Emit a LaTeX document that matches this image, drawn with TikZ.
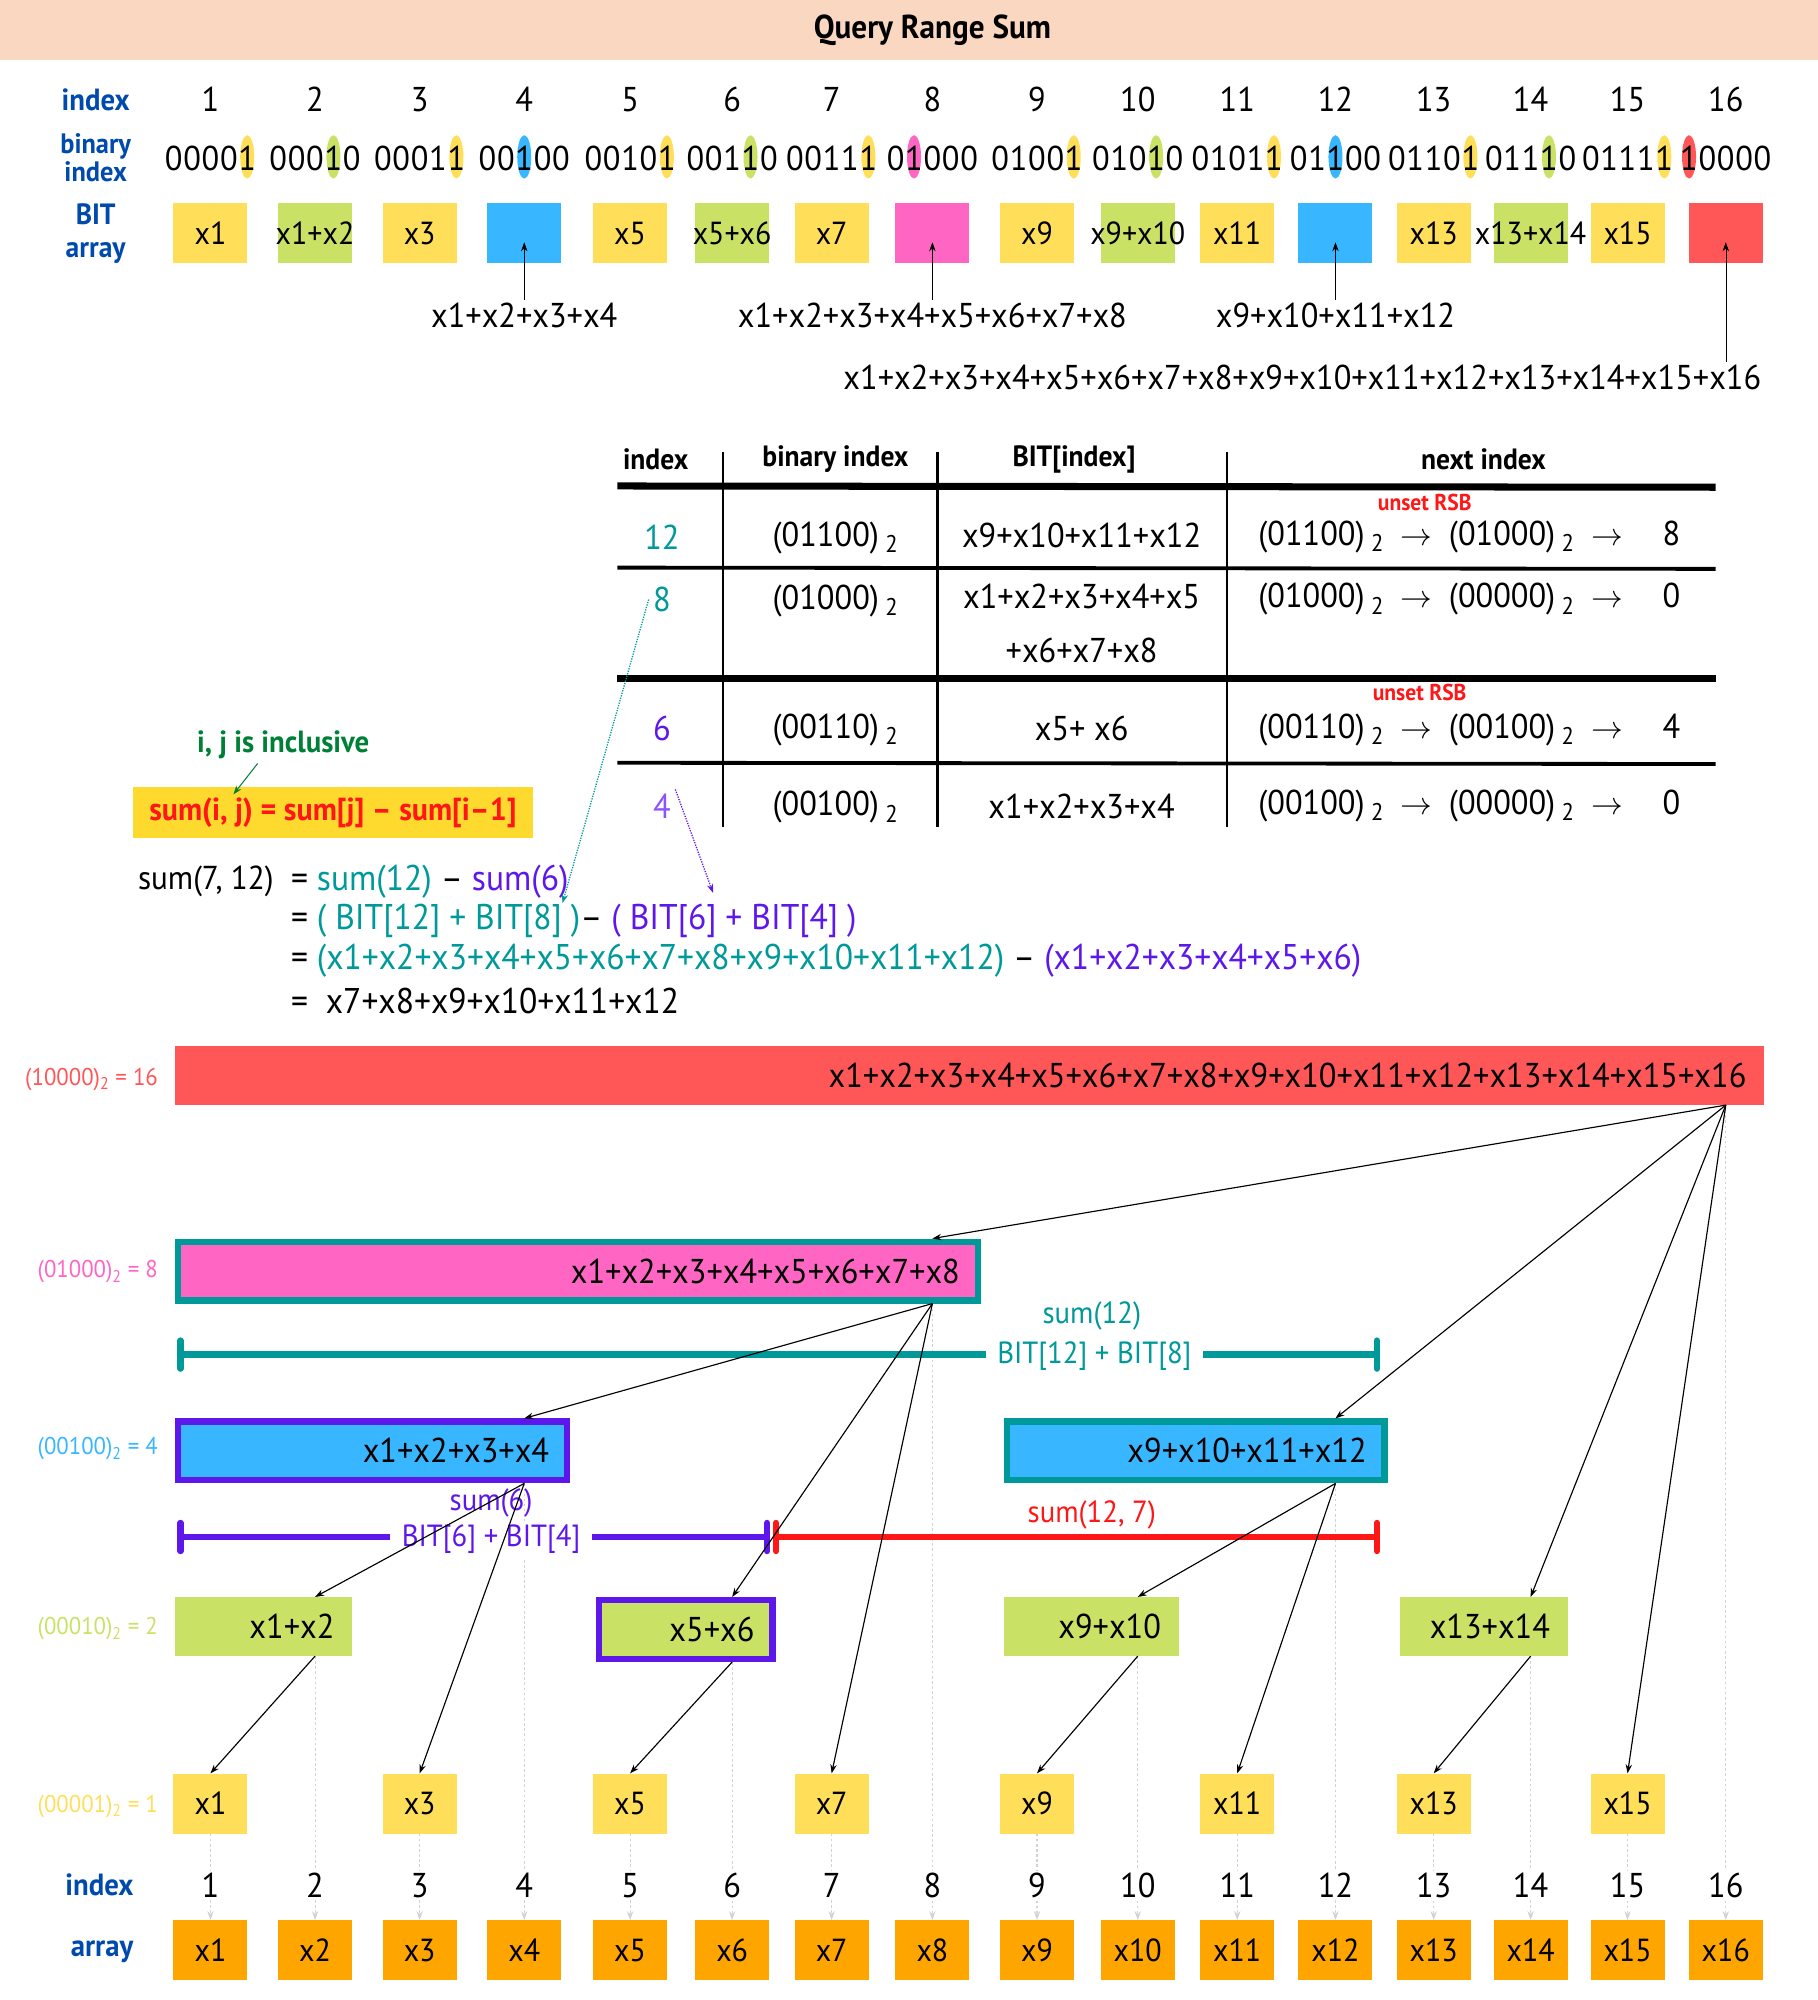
\documentclass[tikz,border=0pt]{standalone}
\usepackage{fontspec}
\setmainfont{PT Sans}[FakeStretch=0.94]
\usetikzlibrary{arrows.meta}
\definecolor{cpeach}{HTML}{FAD7C1}
\definecolor{cnavy}{HTML}{004AAD}
\definecolor{cyel}{HTML}{FFDE59}
\definecolor{cgrn}{HTML}{C9E265}
\definecolor{cblu}{HTML}{38B6FF}
\definecolor{cpnk}{HTML}{FF66C4}
\definecolor{cred}{HTML}{FF5757}
\definecolor{corg}{HTML}{FFA500}
\definecolor{cteal}{HTML}{00999A}
\definecolor{cpur}{HTML}{5E17EB}
\definecolor{clpur}{HTML}{8C52FF}
\definecolor{crtxt}{HTML}{FF1616}
\definecolor{cgtxt}{HTML}{008037}
\definecolor{chl}{HTML}{FFDA2E}
\def\cols{165,247,329,411,494,574,652,731,813,892,970,1047,1124,1200,1276,1353}
\def\bitsloop#1{\ifx#1\relax\else\makebox[14.4pt]{#1}\expandafter\bitsloop\fi}
\newcommand\bits[1]{\edef\bitstmp{#1}\expandafter\bitsloop\bitstmp\relax}
\newcommand\binsub[1]{(#1)\hspace{5pt}\textsubscript{2}}
\newcommand\nxt{\hspace{13pt}{\fontsize{24}{26}\selectfont$\rightarrow$}\hspace{13pt}}

\begin{document}
\begin{tikzpicture}[x=1pt,y=-1pt,>={Stealth[length=7pt,width=5pt]}]
\tikzstyle{num}=[font=\fontsize{27}{30}\selectfont,inner sep=2pt];
\tikzstyle{lbl}=[font=\bfseries\fontsize{24}{25}\selectfont,text=cnavy,align=center,inner sep=0pt];
\tikzstyle{cell}=[minimum width=58pt,minimum height=47pt,inner sep=0pt,font=\fontsize{25}{28}\selectfont];
\tikzstyle{tcell}=[font=\fontsize{27}{30}\selectfont];
\tikzstyle{colhead}=[font=\bfseries\fontsize{23}{26}\selectfont];
\tikzstyle{rsb}=[font=\bfseries\fontsize{18}{19}\selectfont,text=crtxt,inner sep=0pt];
\tikzstyle{ftxt}=[font=\fontsize{28}{30}\selectfont,anchor=west,inner sep=0pt];
\tikzstyle{lvl}=[font=\fontsize{19}{21}\selectfont,anchor=east,inner sep=0pt];
\tikzstyle{seg}=[anchor=north west,inner xsep=14pt,inner ysep=0pt,minimum height=46pt,align=right,font=\fontsize{27}{30}\selectfont];
\tikzstyle{rangebar}=[line width=5pt,{Bar[width=22pt,round]}-{Bar[width=22pt,round]}];
\tikzstyle{barlbl}=[font=\fontsize{24}{26}\selectfont,inner xsep=9pt];
\tikzstyle{guide}=[gray!35,line width=0.8pt,dash pattern=on 2pt off 2pt];

\useasboundingbox (0,0) rectangle (1425,1568);
\fill[cpeach] (0,0) rectangle (1425,47);
\node[font=\bfseries\fontsize{26}{28}\selectfont] (title) at (731,24) {Query Range Sum};

\node[lbl] (lidx) at (75,78) {index};
\node[lbl,font=\bfseries\fontsize{22}{22}\selectfont] (lbin) at (75,124) {binary\\index};
\node[lbl,font=\bfseries\fontsize{23}{26}\selectfont] (lbit) at (75,183) {BIT\\array};

\foreach \x [count=\i] in \cols \node[num] (t\i) at (\x,78) {\i};

\foreach \x/\bn/\p/\cc [count=\i] in {165/00001/5/cyel,247/00010/4/cgrn,329/00011/5/cyel,411/00100/3/cblu,494/00101/5/cyel,574/00110/4/cgrn,652/00111/5/cyel,731/01000/2/cpnk,813/01001/5/cyel,892/01010/4/cgrn,970/01011/5/cyel,1047/01100/3/cblu,1124/01101/5/cyel,1200/01110/4/cgrn,1276/01111/5/cyel,1353/10000/1/cred} {
  \fill[\cc] ({\x+(\p-3)*14.4},123) ellipse (5.5 and 17);
  \node[num] (b\i) at (\x,124) {\bits{\bn}};
}

\foreach \x/\cc/\t [count=\i] in {165/cyel/x1,247/cgrn/x1+x2,329/cyel/x3,411/cblu/{},494/cyel/x5,574/cgrn/x5+x6,652/cyel/x7,731/cpnk/{},813/cyel/x9,892/cgrn/x9+x10,970/cyel/x11,1047/cblu/{},1124/cyel/x13,1200/cgrn/x13+x14,1276/cyel/x15,1353/cred/{}}
  \node[cell,fill=\cc] (a\i) at (\x,183) {\makebox[0pt]{\t}};

\node[num] (s4) at (411,247) {x1+x2+x3+x4};
\node[num] (s8) at (731,247) {x1+x2+x3+x4+x5+x6+x7+x8};
\node[num] (s12) at (1047,247) {x9+x10+x11+x12};
\node[num,anchor=east] (s16) at (1383,296) {x1+x2+x3+x4+x5+x6+x7+x8+x9+x10+x11+x12+x13+x14+x15+x16};
\foreach \i in {4,8,12} \draw[->] (s\i) -- ([yshift=-7pt]a\i.center);
\draw[->] (s16.north -| a16) -- ([yshift=-7pt]a16.center);

\foreach \x in {567,735,962} \draw[line width=1.8pt] (\x,354) -- (\x,648);
\draw[line width=5.5pt] (484,381) -- (1345,382);
\draw[line width=3pt] (484,445) -- (1345,446);
\draw[line width=6pt] (484,532) -- (1345,532);
\draw[line width=3pt] (484,598) -- (1345,599);
\node[colhead] (h1) at (514,360) {index};
\node[colhead] (h2) at (655,360) {binary index};
\node[colhead] (h3) at (842,360) {BIT[index]};
\node[colhead] (h4) at (1163,360) {next index};

\node[tcell,text=cteal] (ti12) at (519,421) {12};
\node[tcell] (tb12) at (655,422) {\binsub{01100}};
\node[tcell] (tv12) at (848,420) {x9+x10+x11+x12};
\node[tcell,anchor=west] (tn12) at (983,421) {\binsub{01100}\nxt\binsub{01000}\nxt\hspace{18pt}8};
\node[rsb] (u12) at (1117,394) {unset RSB};

\node[tcell,text=cteal] (ti8) at (519,470) {8};
\node[tcell] (tb8) at (655,471) {\binsub{01000}};
\node[tcell,align=center,font=\fontsize{27}{42}\selectfont] (tv8) at (848,489) {x1+x2+x3+x4+x5\\+x6+x7+x8};
\node[tcell,anchor=west] (tn8) at (983,470) {\binsub{01000}\nxt\binsub{00000}\nxt\hspace{18pt}0};

\node[tcell,text=cpur] (ti6) at (519,571) {6};
\node[tcell] (tb6) at (655,572) {\binsub{00110}};
\node[tcell] (tv6) at (848,571) {x5+ x6};
\node[tcell,anchor=west] (tn6) at (983,572) {\binsub{00110}\nxt\binsub{00100}\nxt\hspace{18pt}4};
\node[rsb] (u6) at (1113,543) {unset RSB};

\node[tcell,text=clpur] (ti4) at (519,632) {4};
\node[tcell] (tb4) at (655,633) {\binsub{00100}};
\node[tcell] (tv4) at (848,632) {x1+x2+x3+x4};
\node[tcell,anchor=west] (tn4) at (983,632) {\binsub{00100}\nxt\binsub{00000}\nxt\hspace{18pt}0};

\node[font=\bfseries\fontsize{24}{26}\selectfont,text=cgtxt] (inc) at (222,584) {i, j is inclusive};
\node[fill=chl,minimum width=313pt,minimum height=40pt,font=\bfseries\fontsize{25}{27}\selectfont,text=crtxt] (rule) at (261,637) {sum(i, j) = sum[j] -- sum[i--1]};
\draw[->,cgtxt,line width=0.8pt] ([xshift=-20pt]inc.south) -- ([xshift=-78pt,yshift=-6pt]rule.north);

\node[ftxt,font=\fontsize{26}{28}\selectfont] (f0) at (108,691) {sum(7, 12)};
\node[ftxt] (f1) at (228,691) {= \textcolor{cteal}{sum(12)} -- \textcolor{cpur}{sum(6)}};
\node[ftxt] (f2) at (228,722) {= \textcolor{cteal}{( BIT[12] + BIT[8] )}-- \textcolor{cpur}{( BIT[6] + BIT[4] )}};
\node[ftxt] (f3) at (228,753) {= \textcolor{cteal}{(x1+x2+x3+x4+x5+x6+x7+x8+x9+x10+x11+x12)} -- \textcolor{cpur}{(x1+x2+x3+x4+x5+x6)}};
\node[ftxt] (f4) at (228,785) {=\ \ x7+x8+x9+x10+x11+x12};
\coordinate (e8) at (441,708);
\coordinate (e4) at (559,700);
\draw[->,cteal,densely dotted,line width=1pt] (ti8.west) -- (e8);
\draw[->,cpur,densely dotted,line width=1pt] (ti4.north east) -- (e4);

\foreach \y/\bn/\v/\cc in {846/10000/16/cred,997/01000/8/cpnk,1136/00100/4/cblu,1277/00010/2/cgrn,1416/00001/1/cyel}
  \node[lvl,text=\cc] (lv\v) at (124,\y) {(\bn)\textsubscript{2} = \v};

\node[seg,text width=1218pt,fill=cred] (n16) at (137,820) {x1+x2+x3+x4+x5+x6+x7+x8+x9+x10+x11+x12+x13+x14+x15+x16};
\node[seg,text width=599pt,fill=cpnk,draw=cteal,line width=5pt] (n8) at (137,971) {x1+x2+x3+x4+x5+x6+x7+x8};
\node[seg,text width=277pt,fill=cblu,draw=cpur,line width=5pt] (n4) at (137,1112) {x1+x2+x3+x4};
\node[seg,text width=268pt,fill=cblu,draw=cteal,line width=5pt] (n12) at (787,1112) {x9+x10+x11+x12};
\node[seg,text width=111pt,fill=cgrn] (n2) at (137,1252) {x1+x2};
\node[seg,text width=108pt,fill=cgrn,draw=cpur,line width=5pt] (n6) at (467,1252) {x5+x6};
\node[seg,text width=109pt,fill=cgrn] (n10) at (787,1252) {x9+x10};
\node[seg,text width=104pt,fill=cgrn] (n14) at (1097,1252) {x13+x14};

\node[lbl] (lidx2) at (78,1478) {index};
\node[lbl] (larr) at (80,1530) {array};
\foreach \x [count=\i] in \cols {
  \ifodd\i \node[cell,fill=cyel] (n\i) at (\x,1414) {x\i}; \fi
  \node[num] (i\i) at (\x,1478) {\i};
  \node[cell,fill=corg] (o\i) at (\x,1529) {x\i};
}

\foreach \i in {1,...,16} {
  \draw[guide] (n\i.south -| i\i) -- (i\i.north);
  \draw[guide,->] (i\i.south) -- (o\i.north);
}

\coordinate (c12a) at (139,1062);
\coordinate (c12b) at (1082,1062);
\draw[rangebar,cteal] (c12a) -- (c12b);
\node[barlbl,text=cteal,fill=white] (l12) at (858,1063) {BIT[12] + BIT[8]};
\node[barlbl,text=cteal] (m12) at (856,1032) {sum(12)};
\coordinate (c6a) at (139,1205);
\coordinate (c6b) at (604,1205);
\draw[rangebar,cpur] (c6a) -- (c6b);
\node[barlbl,text=cpur,fill=white] (l6) at (385,1207) {BIT[6] + BIT[4]};
\node[barlbl,text=cpur] (m6) at (385,1178) {sum(6)};
\coordinate (c7a) at (606,1205);
\coordinate (c7b) at (1082,1205);
\draw[rangebar,crtxt] (c7a) -- (c7b);
\node[barlbl,text=crtxt] (m7) at (856,1188) {sum(12, 7)};

\foreach \p/\q in {16/8,16/12,16/14,16/15,8/4,8/6,8/7,4/2,4/3,2/1,6/5,12/10,12/11,10/9,14/13}
  \draw[->,line width=0.9pt] (n\p.south -| i\p) -- (n\q.north -| i\q);
\end{tikzpicture}
\end{document}
